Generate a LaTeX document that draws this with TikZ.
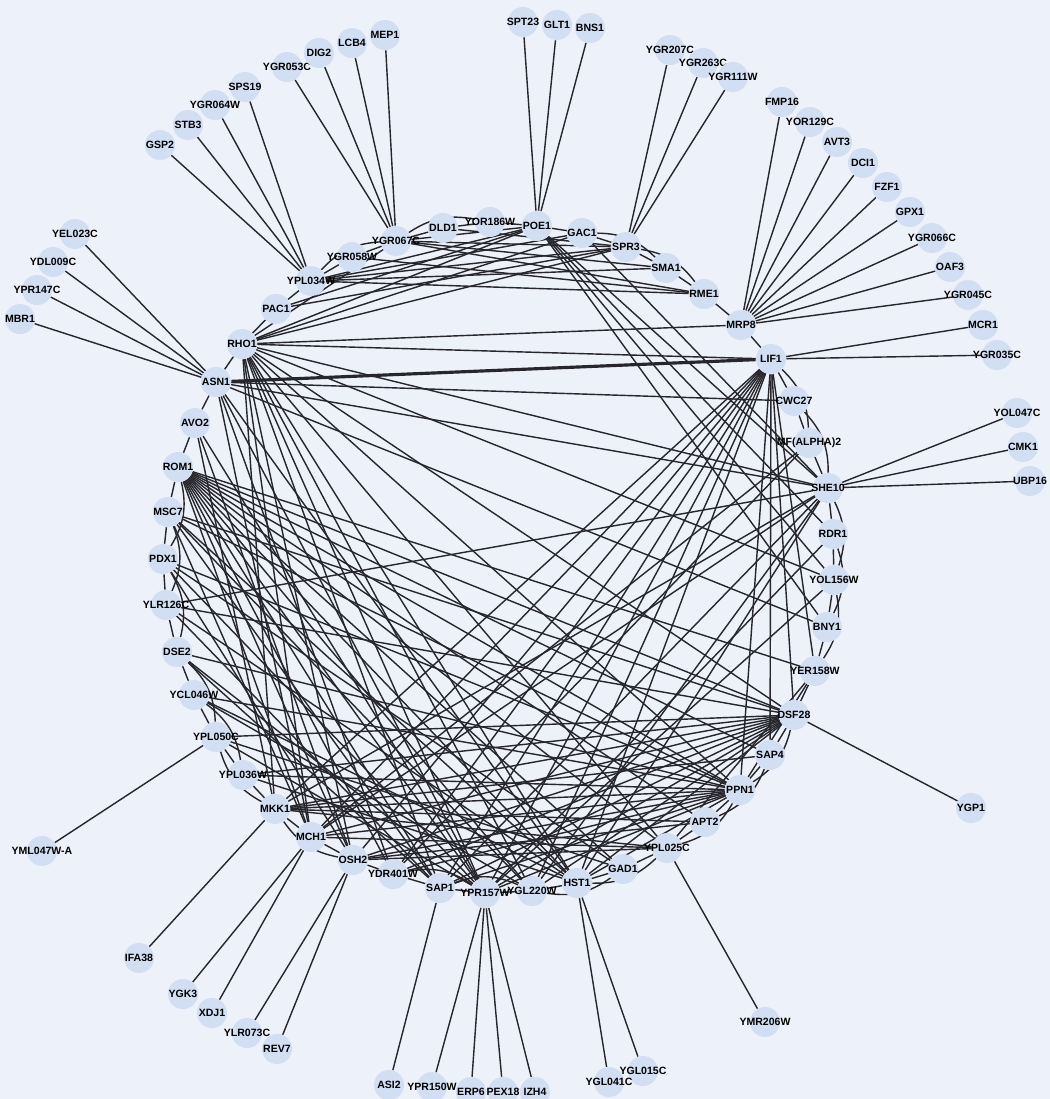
\documentclass[tikz,border=0pt]{standalone}
\usepackage{fontspec}
\setmainfont{Liberation Sans}
\usetikzlibrary{positioning}
\definecolor{pagebg}{RGB}{237,241,249}
\definecolor{genefill}{RGB}{210,222,242}
\definecolor{edgecol}{RGB}{38,38,44}
\pgfdeclarelayer{back}
\pgfdeclarelayer{edges}
\pgfsetlayers{back,edges,main}

\begin{document}
\begin{tikzpicture}[x=0.02cm, y=-0.02cm,
    gene/.style={circle, fill=genefill, minimum size=0.6cm, inner sep=0pt,
        label={[genetext]center:#1}},
    genetext/.style={font=\fontsize{6}{7}\selectfont\bfseries, inner sep=0pt},
    link/.style={line width=0.8pt, edgecol}]

    % --- Khung nen ---
    \begin{pgfonlayer}{back}
        \fill[pagebg] (0,0) rectangle (1050,1099);
    \end{pgfonlayer}
    \useasboundingbox (0,0) rectangle (1050,1099);

    % --- Vong trong ---
    \node[gene=POE1] (POE1) at (537,226) {};
    \node[gene=GAC1] (GAC1) at (582,233) {};
    \node[gene=SPR3] (SPR3) at (626,247) {};
    \node[gene=SMA1] (SMA1) at (666,268) {};
    \node[gene=RME1] (RME1) at (704,294) {};
    \node[gene=MRP8] (MRP8) at (741,325) {};
    \node[gene=LIF1] (LIF1) at (771,359) {};
    \node[gene=CWC27] (CWC27) at (794,401) {};
    \node[gene=MF(ALPHA)2] (MFA2) at (809,443) {};
    \node[gene=SHE10] (SHE10) at (828,488) {};
    \node[gene=RDR1] (RDR1) at (833,534) {};
    \node[gene=YOL156W] (YOL156W) at (834,580) {};
    \node[gene=BNY1] (BNY1) at (827,627) {};
    \node[gene=YER158W] (YER158W) at (815,671) {};
    \node[gene=DSF28] (DSF28) at (794,715) {};
    \node[gene=SAP4] (SAP4) at (770,755) {};
    \node[gene=PPN1] (PPN1) at (740,790) {};
    \node[gene=APT2] (APT2) at (705,822) {};
    \node[gene=YPL025C] (YPL025C) at (667,848) {};
    \node[gene=GAD1] (GAD1) at (623,869) {};
    \node[gene=HST1] (HST1) at (577,883) {};
    \node[gene=YGL220W] (YGL220W) at (532,891) {};
    \node[gene=YPR157W] (YPR157W) at (485,893) {};
    \node[gene=SAP1] (SAP1) at (440,888) {};
    \node[gene=YDR401W] (YDR401W) at (393,874) {};
    \node[gene=OSH2] (OSH2) at (353,860) {};
    \node[gene=MCH1] (MCH1) at (311,837) {};
    \node[gene=MKK1] (MKK1) at (275,809) {};
    \node[gene=YPL036W] (YPL036W) at (243,775) {};
    \node[gene=YPL050C] (YPL050C) at (216,737) {};
    \node[gene=YCL046W] (YCL046W) at (194,695) {};
    \node[gene=DSE2] (DSE2) at (177,652) {};
    \node[gene=YLR126C] (YLR126C) at (166,605) {};
    \node[gene=PDX1] (PDX1) at (163,559) {};
    \node[gene=MSC7] (MSC7) at (168,512) {};
    \node[gene=ROM1] (ROM1) at (178,467) {};
    \node[gene=AVO2] (AVO2) at (195,423) {};
    \node[gene=ASN1] (ASN1) at (216,382) {};
    \node[gene=RHO1] (RHO1) at (242,344) {};
    \node[gene=PAC1] (PAC1) at (276,309) {};
    \node[gene=YPL034W] (YPL034W) at (311,281) {};
    \node[gene=YGR058W] (YGR058W) at (352,257) {};
    \node[gene=YGR067C] (YGR067C) at (396,241) {};
    \node[gene=DLD1] (DLD1) at (443,228) {};
    \node[gene=YOR186W] (YOR186W) at (490,222) {};

    % --- Vong ngoai ---
    \node[gene=GSP2] (GSP2) at (160,145) {};
    \node[gene=STB3] (STB3) at (188,125) {};
    \node[gene=YGR064W] (YGR064W) at (215,105) {};
    \node[gene=SPS19] (SPS19) at (245,87) {};
    \node[gene=YGR053C] (YGR053C) at (287,67) {};
    \node[gene=DIG2] (DIG2) at (319,53) {};
    \node[gene=LCB4] (LCB4) at (352,43) {};
    \node[gene=MEP1] (MEP1) at (385,35) {};
    \node[gene=SPT23] (SPT23) at (523,22) {};
    \node[gene=GLT1] (GLT1) at (557,25) {};
    \node[gene=BNS1] (BNS1) at (590,28) {};
    \node[gene=YGR207C] (YGR207C) at (670,50) {};
    \node[gene=YGR263C] (YGR263C) at (703,63) {};
    \node[gene=YGR111W] (YGR111W) at (733,77) {};
    \node[gene=FMP16] (FMP16) at (782,102) {};
    \node[gene=YOR129C] (YOR129C) at (810,122) {};
    \node[gene=AVT3] (AVT3) at (837,142) {};
    \node[gene=DCI1] (DCI1) at (863,163) {};
    \node[gene=FZF1] (FZF1) at (887,187) {};
    \node[gene=GPX1] (GPX1) at (910,212) {};
    \node[gene=YGR066C] (YGR066C) at (932,238) {};
    \node[gene=OAF3] (OAF3) at (950,267) {};
    \node[gene=YGR045C] (YGR045C) at (968,295) {};
    \node[gene=MCR1] (MCR1) at (983,325) {};
    \node[gene=YGR035C] (YGR035C) at (997,355) {};
    \node[gene=YOL047C] (YOL047C) at (1017,413) {};
    \node[gene=CMK1] (CMK1) at (1023,447) {};
    \node[gene=UBP16] (UBP16) at (1030,481) {};
    \node[gene=YGP1] (YGP1) at (971,808) {};
    \node[gene=YMR206W] (YMR206W) at (765,1022) {};
    \node[gene=YGL015C] (YGL015C) at (643,1071) {};
    \node[gene=YGL041C] (YGL041C) at (609,1082) {};
    \node[gene=IZH4] (IZH4) at (535,1092) {};
    \node[gene=PEX18] (PEX18) at (503,1092) {};
    \node[gene=ERP6] (ERP6) at (471,1092) {};
    \node[gene=YPR150W] (YPR150W) at (432,1087) {};
    \node[gene=ASI2] (ASI2) at (389,1085) {};
    \node[gene=REV7] (REV7) at (277,1049) {};
    \node[gene=YLR073C] (YLR073C) at (247,1033) {};
    \node[gene=XDJ1] (XDJ1) at (212,1013) {};
    \node[gene=YGK3] (YGK3) at (183,994) {};
    \node[gene=IFA38] (IFA38) at (139,958) {};
    \node[gene=YML047W-A] (YML047WA) at (42,851) {};
    \node[gene=MBR1] (MBR1) at (20,319) {};
    \node[gene=YPR147C] (YPR147C) at (37,290) {};
    \node[gene=YDL009C] (YDL009C) at (53,262) {};
    \node[gene=YEL023C] (YEL023C) at (75,234) {};

    \begin{pgfonlayer}{edges}
        % --- Canh ra vong ngoai ---
        \foreach \t in {GSP2,STB3,YGR064W,SPS19} \draw[link] (YPL034W) -- (\t);
        \foreach \t in {YGR053C,DIG2,LCB4,MEP1} \draw[link] (YGR067C) -- (\t);
        \foreach \t in {SPT23,GLT1,BNS1} \draw[link] (POE1) -- (\t);
        \foreach \t in {YGR207C,YGR263C,YGR111W} \draw[link] (SPR3) -- (\t);
        \foreach \t in {FMP16,YOR129C,AVT3,DCI1,FZF1,GPX1,YGR066C,OAF3,YGR045C}
            \draw[link] (MRP8) -- (\t);
        \foreach \t in {MCR1,YGR035C} \draw[link] (LIF1) -- (\t);
        \foreach \t in {YOL047C,CMK1,UBP16} \draw[link] (SHE10) -- (\t);
        \foreach \t in {YEL023C,YDL009C,YPR147C,MBR1} \draw[link] (ASN1) -- (\t);
        \draw[link] (DSF28) -- (YGP1);
        \draw[link] (YPL025C) -- (YMR206W);
        \foreach \t in {YGL041C,YGL015C} \draw[link] (HST1) -- (\t);
        \foreach \t in {YPR150W,ERP6,PEX18,IZH4} \draw[link] (YPR157W) -- (\t);
        \draw[link] (SAP1) -- (ASI2);
        \foreach \t in {YLR073C,REV7} \draw[link] (OSH2) -- (\t);
        \foreach \t in {YGK3,XDJ1} \draw[link] (MCH1) -- (\t);
        \draw[link] (MKK1) -- (IFA38);
        \draw[link] (YPL050C) -- (YML047WA);

        % --- Canh giua hai nut ke nhau ---
        \foreach \a/\b in {POE1/GAC1,GAC1/SPR3,SPR3/SMA1,SMA1/RME1,RME1/MRP8,
            MRP8/LIF1,LIF1/CWC27,CWC27/MFA2,MFA2/SHE10,SHE10/RDR1,RDR1/YOL156W,
            YOL156W/BNY1,BNY1/YER158W,YER158W/DSF28,DSF28/SAP4,SAP4/PPN1,
            PPN1/APT2,APT2/YPL025C,YPL025C/GAD1,GAD1/HST1,HST1/YGL220W,
            YGL220W/YPR157W,YPR157W/SAP1,SAP1/YDR401W,YDR401W/OSH2,OSH2/MCH1,
            MCH1/MKK1,MKK1/YPL036W,YPL036W/YPL050C,YPL050C/YCL046W,
            YCL046W/DSE2,DSE2/YLR126C,YLR126C/PDX1,PDX1/MSC7,MSC7/ROM1,
            ROM1/AVO2,AVO2/ASN1,ASN1/RHO1,RHO1/PAC1,PAC1/YPL034W,
            YPL034W/YGR058W,YGR058W/YGR067C,YGR067C/DLD1,DLD1/YOR186W,
            YOR186W/POE1}
            \draw[link] (\a) -- (\b);

        % --- Cung ngan sat vong ---
        \foreach \a/\b in {MKK1/YPL050C,OSH2/MKK1,YDR401W/YPR157W,SAP1/YGL220W,
            GAD1/YGL220W,YPL025C/HST1,PPN1/YPL025C,SAP4/APT2,DSF28/PPN1,
            YOL156W/YER158W,RDR1/BNY1,SHE10/YOL156W,CWC27/SHE10,LIF1/MFA2,
            YCL046W/YPL036W,DSE2/YPL050C,PDX1/DSE2,MSC7/YLR126C,ROM1/PDX1,
            GAC1/SMA1,SPR3/RME1,YGR067C/YOR186W,YPL034W/YGR067C}
            \draw[link] (\a) to[bend left=22] (\b);

        % --- Canh xuyen vong ---
        \draw[link, line width=1.8pt] (ASN1) -- (LIF1);
        \foreach \t in {MRP8,LIF1,SHE10,SPR3,GAC1,YGR067C,MKK1,MCH1,OSH2,SAP1,
            YPR157W,HST1,PPN1,YPL025C,DSF28,YGL220W,YOL156W}
            \draw[link] (RHO1) -- (\t);
        \foreach \t in {CWC27,SHE10,MCH1,YDR401W,YPR157W,HST1,BNY1}
            \draw[link] (ASN1) -- (\t);
        \foreach \t in {MKK1,OSH2,YPR157W} \draw[link] (AVO2) -- (\t);
        \foreach \t in {DSF28,PPN1,APT2,YPL025C,GAD1,HST1,YGL220W,YPR157W,SAP1,
            YDR401W,MCH1,SAP4,YER158W,OSH2}
            \draw[link] (ROM1) -- (\t);
        \foreach \t in {PPN1,HST1,SAP1,MCH1,DSF28,YGL220W} \draw[link] (MSC7) -- (\t);
        \foreach \t in {YPR157W,OSH2,GAD1,PPN1} \draw[link] (PDX1) -- (\t);
        \foreach \t in {SHE10,HST1,SAP1,DSF28} \draw[link] (YLR126C) -- (\t);
        \foreach \t in {YPR157W,SAP1,PPN1} \draw[link] (DSE2) -- (\t);
        \foreach \t in {YGL220W,PPN1,HST1} \draw[link] (YCL046W) -- (\t);
        \foreach \t in {DSF28,YPR157W,GAD1} \draw[link] (YPL050C) -- (\t);
        \foreach \t in {DSF28,PPN1,HST1} \draw[link] (YPL036W) -- (\t);
        \foreach \t in {DSF28,PPN1,LIF1,SHE10,APT2,YPL025C,SAP4}
            \draw[link] (MKK1) -- (\t);
        \foreach \t in {DSF28,PPN1,LIF1,SHE10,YPL025C,MFA2}
            \draw[link] (MCH1) -- (\t);
        \foreach \t in {DSF28,PPN1,LIF1,YPL025C,APT2} \draw[link] (OSH2) -- (\t);
        \foreach \t in {DSF28,LIF1,PPN1} \draw[link] (YDR401W) -- (\t);
        \foreach \t in {LIF1,SHE10,DSF28,PPN1} \draw[link] (SAP1) -- (\t);
        \foreach \t in {LIF1,RDR1,PPN1,DSF28} \draw[link] (YPR157W) -- (\t);
        \foreach \t in {SHE10,DSF28,LIF1} \draw[link] (YGL220W) -- (\t);
        \foreach \t in {LIF1,DSF28,SHE10,PPN1} \draw[link] (HST1) -- (\t);
        \foreach \t in {PPN1,DSF28,SAP4,YER158W} \draw[link] (LIF1) -- (\t);
        \foreach \t in {SHE10,RDR1,YOL156W,BNY1,RHO1,YPL034W,YGR067C,PAC1}
            \draw[link] (POE1) -- (\t);
        \foreach \t in {SHE10,YPL034W} \draw[link] (GAC1) -- (\t);
        \foreach \t in {YPL034W,YGR067C,DLD1,PAC1} \draw[link] (SPR3) -- (\t);
        \foreach \t in {YGR067C,YPL034W} \draw[link] (SMA1) -- (\t);
        \foreach \t in {YPL034W,YGR058W,YGR067C} \draw[link] (RME1) -- (\t);
        \foreach \t in {YPL025C,PPN1} \draw[link] (YER158W) -- (\t);
        \draw[link] (MFA2) -- (YDR401W);
        \draw[link] (YOL156W) -- (YPR157W);
    \end{pgfonlayer}
\end{tikzpicture}
\end{document}
